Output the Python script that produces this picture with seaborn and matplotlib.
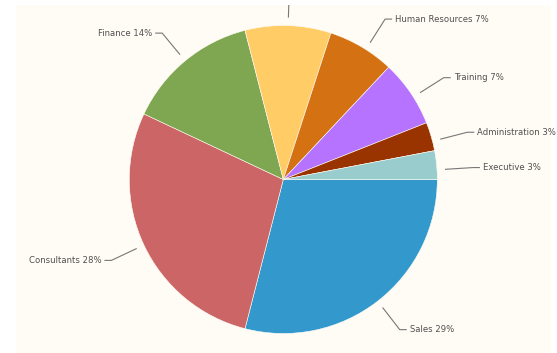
import matplotlib
matplotlib.use("Agg")
import matplotlib.pyplot as plt
import seaborn as sns
import numpy as np

categories = ["Sales", "Consultants", "Finance", "Marketing", "Human Resources",
              "Training", "Administration", "Executive"]
values = [29, 28, 14, 9, 7, 7, 3, 3]
colors = ["#3399CC", "#CC6666", "#7FA650", "#FFCC66", "#D47213",
          "#B573FF", "#993300", "#99CCCC"]
# the label of the top slice lies above the visible chart area in the reference
hidden_labels = ["Marketing"]

sns.set_theme(style="white")
plt.rcParams['font.family'] = ['DejaVu Sans']

W, H = 557, 353
fig = plt.figure(figsize=(W / 100, H / 100), dpi=100)
fig.patch.set_facecolor("white")
left, right, top = 16, 551, 5
ax = fig.add_axes([left / W, 0, (right - left) / W, (H - top) / H])

cx, cy_img = 283.3, 179.5
cy = H - cy_img
r = 154

pal = sns.color_palette(colors)
wedges, _ = ax.pie(values, colors=pal, startangle=0, counterclock=False,
                   center=(cx, cy), radius=r,
                   wedgeprops=dict(linewidth=0.4, edgecolor="#FFFCF5"))

ax.set_frame_on(True)
ax.patch.set_visible(True)
ax.set_facecolor("#FFFCF5")
ax.set_xlim(left, right)
ax.set_ylim(0, H - top)
ax.set_aspect("auto")
for s in ax.spines.values():
    s.set_visible(False)
ax.set_xticks([])
ax.set_yticks([])

for w, cat, v in zip(wedges, categories, values):
    mid = ((w.theta1 + w.theta2) / 2) % 360
    if 0 < mid < 80:
        mid -= 1.8
    mid = np.deg2rad(mid)
    c, s = np.cos(mid), np.sin(mid)
    x0, y0 = cx + (r + 8) * c, cy + (r + 8) * s
    x1, y1 = cx + (r + 36) * c, cy + (r + 36) * s
    sign = 1 if c >= 0 else -1
    x2 = x1 + sign * 7
    ax.plot([x0, x1, x2], [y0, y1, y1], color="#777777", lw=0.8,
            solid_capstyle="butt", clip_on=True)
    if cat in hidden_labels:
        continue
    ax.text(x2 + sign * 3, y1, f"{cat} {v}%", ha="left" if sign > 0 else "right",
            va="center", fontsize=6.1, color="#505050", clip_on=False)

fig.savefig("out.png", dpi=100)
